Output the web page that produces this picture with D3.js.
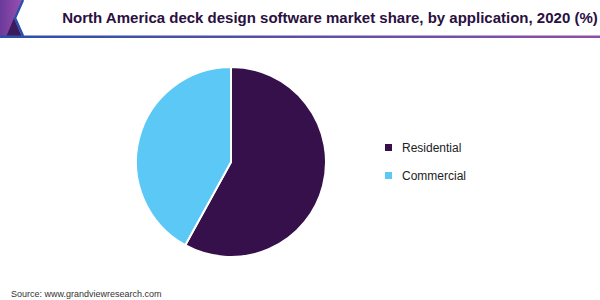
<!DOCTYPE html>
<html>
<head>
<meta charset="utf-8">
<script src="https://cdn.jsdelivr.net/npm/d3@7"></script>
<style>
body { margin: 0; background: #fff; }
svg { display: block; font-family: Arial, "Liberation Sans", sans-serif; }
</style>
</head>
<body>
<svg id="chart" width="600" height="300"></svg>
<script>
var categories = ["Residential", "Commercial"];
var shares = [58, 42];
var colors = ["#35104a", "#5bc8f5"];

var svg = d3.select("#chart");
var defs = svg.append("defs");

// header decoration
var lg = defs.append("linearGradient").attr("id", "hdr").attr("x1", 0).attr("x2", 1);
lg.append("stop").attr("offset", "0%").attr("stop-color", "#2b4fa8");
lg.append("stop").attr("offset", "100%").attr("stop-color", "#8c4fa8");
var pg = defs.append("linearGradient").attr("id", "corner").attr("x1", 0).attr("x2", 1).attr("y1", 0).attr("y2", 0);
pg.append("stop").attr("offset", "0%").attr("stop-color", "#6a3a9a");
pg.append("stop").attr("offset", "100%").attr("stop-color", "#9a4fb0");

svg.append("path").attr("d", "M0,0 L22,0 L14,18 L22,37 L0,37 Z").attr("fill", "url(#corner)");
svg.append("path").attr("d", "M6,37 L14,18 L22,37 Z").attr("fill", "#3d1a5c");
svg.append("path").attr("d", "M23,0 L15,18 L23,36").attr("fill", "none")
  .attr("stroke", "#2b4fa8").attr("stroke-width", 2.5);
svg.append("rect").attr("x", 0).attr("y", 35.5).attr("width", 600).attr("height", 2.5).attr("fill", "url(#hdr)");

svg.append("text").attr("x", 330).attr("y", 23).attr("text-anchor", "middle")
  .attr("font-size", 15).attr("font-weight", "bold").attr("fill", "#2a1040")
  .text("North America deck design software market share, by application, 2020 (%)");

// pie
var radius = 95;
var pie = d3.pie().sort(null).value(function (d) { return d; });
var arc = d3.arc().innerRadius(0).outerRadius(radius);
var g = svg.append("g").attr("transform", "translate(231,162)");
g.selectAll("path").data(pie(shares)).enter().append("path")
  .attr("d", arc)
  .attr("fill", function (d, i) { return colors[i]; })
  .attr("stroke", "#fff").attr("stroke-width", 2);

// legend
var leg = svg.selectAll(".leg").data(categories).enter().append("g")
  .attr("transform", function (d, i) { return "translate(385," + (148 + i * 28) + ")"; });
leg.append("rect").attr("x", 0).attr("y", -4).attr("width", 7).attr("height", 7)
  .attr("fill", function (d, i) { return colors[i]; });
leg.append("text").attr("x", 17).attr("y", 4).attr("font-size", 12).attr("fill", "#222")
  .text(function (d) { return d; });

svg.append("text").attr("x", 11).attr("y", 297).attr("font-size", 9).attr("fill", "#333")
  .text("Source: www.grandviewresearch.com");
</script>
</body>
</html>
